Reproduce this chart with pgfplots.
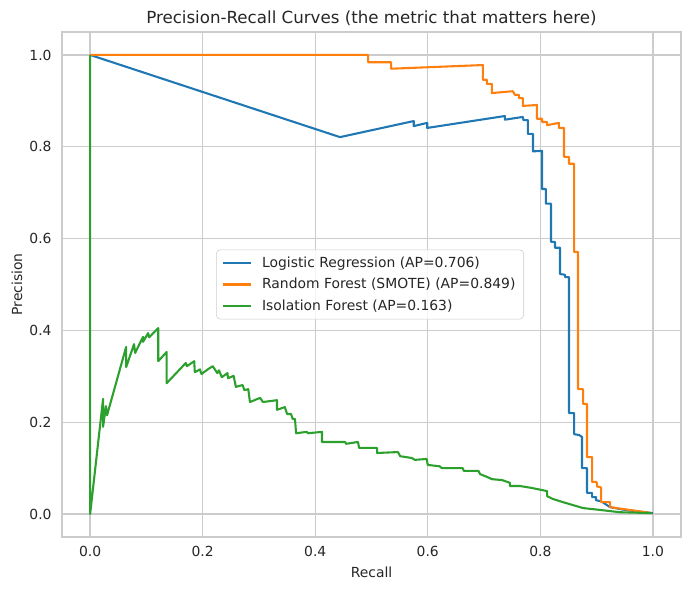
\documentclass[border=0pt]{standalone}
\usepackage{fontspec}
\setmainfont{DejaVu Sans}
\usepackage{pgfplots}
\pgfplotsset{compat=1.18}
\definecolor{tblue}{HTML}{1F77B4}
\definecolor{torange}{HTML}{FF7F0E}
\definecolor{tgreen}{HTML}{2CA02C}
\definecolor{gridc}{HTML}{CCCCCC}
\definecolor{txt}{HTML}{262626}
\begin{document}
\begin{tikzpicture}
\path[use as bounding box] (-44.64pt,-38.16pt) rectangle (452.16pt,386.64pt);
\begin{axis}[
  at={(0,0)}, anchor=south west,
  scale only axis, width=445.68pt, height=363.6pt,
  xmin=-0.05, xmax=1.05, ymin=-0.05, ymax=1.05,
  xtick={0,0.2,0.4,0.6,0.8,1}, ytick={0,0.2,0.4,0.6,0.8,1},
  xticklabels={0.0,0.2,0.4,0.6,0.8,1.0},
  yticklabels={0.0,0.2,0.4,0.6,0.8,1.0},
  major tick length=0pt,
  grid=major, grid style={gridc, line width=1pt},
  axis line style={gridc, line width=1.25pt},
  tick label style={font=\fontsize{10}{12}\selectfont, text=txt},
  xticklabel style={yshift=-3pt},
  yticklabel style={xshift=-4pt},
  xlabel={Recall}, ylabel={Precision},
  label style={font=\fontsize{10}{12}\selectfont, text=txt},
  xlabel style={at={(axis description cs:0.5,-0.0693)}, anchor=center},
  ylabel style={at={(axis description cs:-0.0727,0.5)}, anchor=center},
  title={Precision-Recall Curves (the metric that matters here)},
  title style={font=\fontsize{12}{14}\selectfont, text=txt, at={(axis description cs:0.5,1)}, anchor=base},
  legend cell align=left,
  legend image code/.code={\draw[#1] (0pt,0pt) -- (20pt,0pt);},
  legend style={at={(axis description cs:0.4976,0.5)}, anchor=center,
    draw=gridc, fill=white, fill opacity=0.8, text opacity=1, rounded corners=3pt,
    font=\fontsize{10}{12}\selectfont, text=txt, row sep=2.3pt,
    inner xsep=4pt, inner ysep=3pt,
    /tikz/every odd column/.append style={column sep=5.5pt}},
  every axis plot/.append style={line width=1.5pt, line join=round, no markers},
]
\addplot[tblue] coordinates {
(0.000,1.000) (0.444,0.821) (0.575,0.856) (0.575,0.845) (0.599,0.852) (0.599,0.841)
(0.737,0.867) (0.737,0.859) (0.769,0.865) (0.770,0.858) (0.778,0.858) (0.778,0.828)
(0.787,0.828) (0.787,0.790) (0.803,0.791) (0.803,0.708) (0.810,0.708) (0.810,0.676)
(0.819,0.676) (0.819,0.593) (0.826,0.593) (0.826,0.580) (0.835,0.580) (0.835,0.523)
(0.844,0.521) (0.844,0.516) (0.851,0.516) (0.851,0.220) (0.860,0.220) (0.860,0.174)
(0.869,0.172) (0.874,0.168) (0.874,0.100) (0.883,0.100) (0.883,0.046) (0.892,0.046)
(0.892,0.037) (0.899,0.037) (0.899,0.030) (0.908,0.028) (0.924,0.015) (0.950,0.009)
(1.000,0.002)
};
\addlegendentry{Logistic Regression (AP=0.706)}
\addplot[torange] coordinates {
(0.000,1.000) (0.494,1.000) (0.494,0.984) (0.535,0.984) (0.535,0.970) (0.698,0.978)
(0.698,0.946) (0.705,0.946) (0.705,0.937) (0.714,0.937) (0.714,0.917) (0.751,0.921)
(0.755,0.913) (0.762,0.913) (0.762,0.906) (0.769,0.906) (0.769,0.889) (0.794,0.891)
(0.794,0.861) (0.803,0.861) (0.803,0.854) (0.812,0.854) (0.812,0.847) (0.833,0.852)
(0.833,0.841) (0.842,0.841) (0.842,0.778) (0.851,0.778) (0.851,0.763) (0.860,0.763)
(0.860,0.571) (0.867,0.571) (0.867,0.272) (0.876,0.272) (0.876,0.240) (0.883,0.240)
(0.883,0.124) (0.892,0.124) (0.892,0.070) (0.900,0.070) (0.901,0.060) (0.908,0.058)
(0.908,0.026) (0.924,0.026) (0.924,0.015) (0.947,0.011) (0.998,0.002)
};
\addlegendentry{Random Forest (SMOTE) (AP=0.849)}
\addplot[tgreen] coordinates {
(0.000,1.000) (0.000,0.000) (0.023,0.251) (0.023,0.190) (0.028,0.235) (0.030,0.215)
(0.064,0.364) (0.064,0.320) (0.078,0.370) (0.080,0.351) (0.094,0.386) (0.094,0.375)
(0.103,0.394) (0.105,0.385) (0.121,0.405) (0.121,0.333) (0.136,0.353) (0.136,0.285)
(0.170,0.329) (0.172,0.322) (0.185,0.333) (0.186,0.309) (0.195,0.315) (0.198,0.305)
(0.210,0.316) (0.218,0.322) (0.226,0.307) (0.229,0.313) (0.234,0.298) (0.244,0.307)
(0.245,0.296) (0.255,0.301) (0.259,0.277) (0.271,0.281) (0.274,0.270) (0.281,0.272)
(0.284,0.244) (0.302,0.253) (0.307,0.244) (0.332,0.248) (0.332,0.227) (0.346,0.233)
(0.350,0.218) (0.357,0.218) (0.360,0.207) (0.364,0.207) (0.366,0.176) (0.385,0.179)
(0.387,0.176) (0.412,0.179) (0.412,0.157) (0.453,0.157) (0.455,0.153) (0.476,0.157)
(0.478,0.144) (0.510,0.144) (0.510,0.133) (0.547,0.135) (0.551,0.126) (0.572,0.122)
(0.577,0.118) (0.598,0.120) (0.600,0.107) (0.621,0.104) (0.625,0.100) (0.662,0.100)
(0.664,0.094) (0.690,0.094) (0.693,0.087) (0.705,0.081) (0.714,0.076) (0.732,0.074)
(0.746,0.068) (0.746,0.061) (0.764,0.061) (0.784,0.057) (0.796,0.054) (0.812,0.050)
(0.812,0.039) (0.822,0.033) (0.840,0.026) (0.876,0.013) (0.906,0.009) (0.941,0.004)
(0.998,0.002)
};
\addlegendentry{Isolation Forest (AP=0.163)}
\end{axis}
\end{tikzpicture}
\end{document}
